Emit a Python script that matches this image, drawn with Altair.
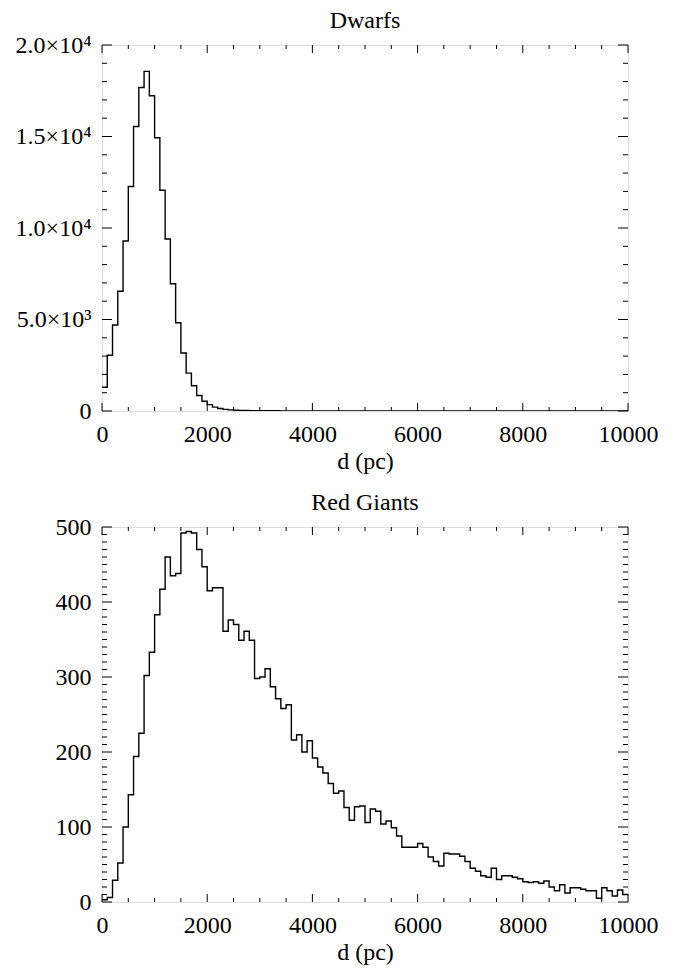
import altair as alt
import pandas as pd

FONT = "Liberation Serif"
FS = 24

BIN_WIDTH = 100
bin_starts = list(range(0, 10000, BIN_WIDTH))

dwarf_counts = [
    1300, 3050, 4700, 6540, 9290, 12270, 15550, 17680, 18560, 17230,
    14930, 12060, 9400, 6950, 4820, 3170, 2070, 1380, 850, 530,
    350, 210, 140, 90, 60, 40, 30, 25, 20, 16,
    14, 12, 11, 10, 9, 8, 8, 7, 7, 6,
    6, 5, 5, 5, 4, 4, 4, 4, 3, 3,
    3, 3, 3, 2, 2, 2, 2, 2, 2, 2,
    2, 1, 1, 1, 1, 1, 1, 1, 1, 1,
    1, 1, 1, 1, 1, 1, 1, 1, 0, 0,
    0, 0, 0, 0, 0, 0, 0, 0, 0, 0,
    0, 0, 0, 0, 0, 0, 0, 0, 0, 0,
]

giant_counts = [
    3, 6, 29, 52, 100, 143, 194, 225, 302, 333,
    383, 417, 460, 435, 438, 492, 494, 492, 470, 447,
    415, 419, 419, 361, 376, 370, 349, 361, 349, 298,
    300, 311, 287, 271, 258, 263, 216, 223, 200, 215,
    192, 180, 172, 158, 145, 148, 126, 109, 127, 128,
    106, 124, 121, 104, 108, 99, 88, 73, 73, 73,
    78, 73, 60, 54, 48, 65, 64, 64, 61, 54,
    45, 41, 35, 33, 45, 30, 35, 35, 33, 31,
    27, 26, 27, 25, 28, 20, 15, 23, 12, 19,
    19, 17, 15, 15, 5, 19, 15, 8, 16, 10,
]

x_major = [0, 2000, 4000, 6000, 8000, 10000]
x_minor = [500, 1000, 1500, 2500, 3000, 3500, 4500, 5000, 5500,
           6500, 7000, 7500, 8500, 9000, 9500]

dwarf_y_major = [0, 5000, 10000, 15000, 20000]
dwarf_y_minor = [1000, 2000, 3000, 4000, 6000, 7000, 8000, 9000,
                 11000, 12000, 13000, 14000, 16000, 17000, 18000, 19000]
dwarf_y_label_expr = ("datum.value == 0 ? '0' : datum.value == 5000 ? '5.0×10³' : "
                      "datum.value == 10000 ? '1.0×10⁴' : datum.value == 15000 ? '1.5×10⁴' : '2.0×10⁴'")

giant_y_major = [0, 100, 200, 300, 400, 500]
giant_y_minor = [v for v in range(10, 500, 10) if v % 100 != 0]

W = 526


def panel(title, counts, ymax, ymajor, yminor, label_expr, H):
    df = pd.DataFrame({"d": bin_starts + [10000], "n": counts + [counts[-1]]})
    xs = alt.Scale(domain=[0, 10000], nice=False, zero=False)
    ys = alt.Scale(domain=[0, ymax], nice=False, zero=False)
    xaxis = alt.Axis(values=x_major, ticks=False, domain=False, grid=False,
                     labelFont=FONT, labelFontSize=FS, labelPadding=11, labelColor="black",
                     format="d", labelFlush=False,
                     titleFont=FONT, titleFontSize=FS, titleFontWeight="normal",
                     titleColor="black", titlePadding=3)
    yargs = dict(values=ymajor, ticks=False, domain=False, grid=False,
                 labelFont=FONT, labelFontSize=FS, labelPadding=11, labelColor="black",
                 format="d", minExtent=88, maxExtent=88)
    if label_expr:
        yargs["labelExpr"] = label_expr
    yaxis = alt.Axis(**yargs)

    line = alt.Chart(df).mark_line(
        interpolate="step-after", color="black", strokeWidth=1.4, clip=True
    ).encode(
        x=alt.X("d:Q", scale=xs, axis=xaxis, title="d (pc)"),
        y=alt.Y("n:Q", scale=ys, axis=yaxis, title=None),
    )

    layers = [line]

    def xticks(vals, L):
        d = pd.DataFrame({"d": vals})
        bot = alt.Chart(d).mark_rule(color="black", strokeWidth=1).encode(
            x=alt.X("d:Q", scale=xs, axis=xaxis, title="d (pc)"),
            y=alt.value(H), y2=alt.value(H - L))
        top = alt.Chart(d).mark_rule(color="black", strokeWidth=1).encode(
            x=alt.X("d:Q", scale=xs, axis=xaxis, title="d (pc)"),
            y=alt.value(0), y2=alt.value(L))
        return [bot, top]

    def yticks(vals, L):
        d = pd.DataFrame({"n": vals})
        left = alt.Chart(d).mark_rule(color="black", strokeWidth=1).encode(
            y=alt.Y("n:Q", scale=ys, axis=yaxis, title=None),
            x=alt.value(0), x2=alt.value(L))
        right = alt.Chart(d).mark_rule(color="black", strokeWidth=1).encode(
            y=alt.Y("n:Q", scale=ys, axis=yaxis, title=None),
            x=alt.value(W), x2=alt.value(W - L))
        return [left, right]

    layers += xticks(x_major, 8) + xticks(x_minor, 4)
    layers += yticks(ymajor, 10) + yticks(yminor, 5)

    return alt.layer(*layers).properties(
        width=W, height=H,
        title=alt.TitleParams(title, font=FONT, fontSize=FS, fontWeight="normal",
                              color="black", offset=0),
    )


top = panel("Dwarfs", dwarf_counts, 20000, dwarf_y_major, dwarf_y_minor, dwarf_y_label_expr, 366)
bottom = panel("Red Giants", giant_counts, 500, giant_y_major, giant_y_minor, None, 375)

chart = alt.vconcat(top, bottom, spacing=16).properties(
    padding={"left": 5, "top": 0, "right": 5, "bottom": 0}
).configure_view(stroke="black", strokeWidth=1.2).configure(background="white")

chart.save("out.html", embed_options={"renderer": "svg", "actions": False})
